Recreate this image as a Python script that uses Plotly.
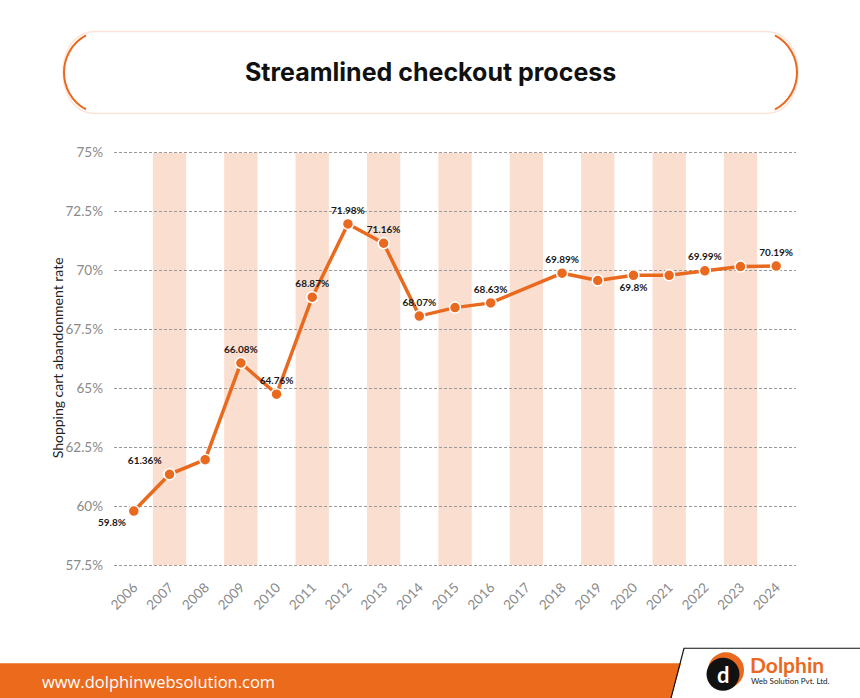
import plotly.graph_objects as go

# ---------------- data ----------------
years = list(range(2006, 2025))
rates = [59.8, 61.36, 61.98, 66.08, 64.76, 68.87, 71.98, 71.16, 68.07, 68.43,
         68.63, None, 69.89, 69.58, 69.8, 69.8, 69.99, 70.17, 70.19]
point_labels = ["59.8%", "61.36%", "", "66.08%", "64.76%", "68.87%", "71.98%", "71.16%",
                "68.07%", "", "68.63%", "", "69.89%", "", "69.8%", "", "69.99%", "", "70.19%"]
label_positions = ["bottom left", "top left", "top center", "top center", "top center",
                   "top center", "top center", "top center", "top center", "top center",
                   "top center", "top center", "top center", "top center", "bottom center",
                   "top center", "top center", "top center", "top center"]
band_years = [2007, 2009, 2011, 2013, 2015, 2017, 2019, 2021, 2023]
y_tick_values = [57.5, 60, 62.5, 65, 67.5, 70, 72.5, 75]
y_tick_labels = ["57.5%", "60%", "62.5%", "65%", "67.5%", "70%", "72.5%", "75%"]
x_tick_labels = [str(y) for y in years]

title_text = "Streamlined checkout process"
y_title = "Shopping cart abandonment rate"
footer_url = "www.dolphinwebsolution.com"

ORANGE = "#E9691F"
BAND = "#FADFD1"

# ---------------- layout geometry (pixels) ----------------
W, H = 860, 698
Y_LO, Y_HI = 57.3, 75.2
PX_PER_UNIT = (565 - 152.3) / 17.5
T = 152.3 - (Y_HI - 75) * PX_PER_UNIT
BOT = 565 + (57.5 - Y_LO) * PX_PER_UNIT
L, R = 114, 64
B = H - BOT
PW, PH = W - L - R, BOT - T


def px(x):
    return (x - L) / PW


def py(y):
    return (BOT - y) / PH


def path(cmds):
    out = []
    for c in cmds:
        if isinstance(c, str):
            out.append(c)
        else:
            out.append(f"{px(c[0]):.5f},{py(c[1]):.5f}")
    return " ".join(out)


fig = go.Figure()

fig.add_trace(go.Scatter(
    x=years, y=rates, mode="lines+markers+text",
    connectgaps=True,
    line=dict(color=ORANGE, width=3.5),
    marker=dict(color=ORANGE, size=11, line=dict(color="white", width=1.5)),
    text=point_labels, textposition=label_positions,
    textfont=dict(family="Lato", size=10, color="#1a1a1a", weight="bold"),
    hoverinfo="skip", showlegend=False, cliponaxis=False,
))

shapes = []
# alternating background bands
for yr in band_years:
    shapes.append(dict(type="rect", xref="x", yref="y", x0=yr - 0.467, x1=yr + 0.467,
                       y0=y_tick_values[0], y1=y_tick_values[-1], fillcolor=BAND,
                       line=dict(width=0), layer="below"))

# title pill
pill = path(["M", (96, 31), "L", (765, 31), "C", (790, 31), (798, 55), (798, 72),
             "C", (798, 89), (790, 113), (765, 113), "L", (96, 113),
             "C", (71, 113), (63, 89), (63, 72), "C", (63, 55), (71, 31), (96, 31), "Z"])
shapes.append(dict(type="path", xref="paper", yref="paper", path=pill,
                   fillcolor="white", line=dict(color="#FBE4D7", width=1.5), layer="above"))
left_arc = path(["M", (86, 35), "C", (71, 43), (64, 58), (64, 72), "C", (64, 86), (71, 101), (86, 109)])
right_arc = path(["M", (775, 35), "C", (790, 43), (797, 58), (797, 72), "C", (797, 86), (790, 101), (775, 109)])
for p in (left_arc, right_arc):
    shapes.append(dict(type="path", xref="paper", yref="paper", path=p,
                       line=dict(color=ORANGE, width=2), layer="above"))

# footer bar
bar = path(["M", (0, 663), "L", (681, 663), "L", (671, 698), "L", (0, 698), "Z"])
shapes.append(dict(type="path", xref="paper", yref="paper", path=bar,
                   fillcolor="#EB6A1B", line=dict(width=0), layer="above"))
edge = path(["M", (860, 648), "L", (684, 648), "L", (671, 698)])
shapes.append(dict(type="path", xref="paper", yref="paper", path=edge,
                   line=dict(color="#111", width=1.2), layer="above"))


def circle(cx, cy, r, color):
    return dict(type="circle", xref="paper", yref="paper",
                x0=px(cx - r), x1=px(cx + r), y0=py(cy + r), y1=py(cy - r),
                fillcolor=color, line=dict(width=0), layer="above")


shapes.append(circle(726, 670, 18, ORANGE))
shapes.append(circle(723, 674, 16.5, "#111"))

annotations = [
    dict(text=f"<b>{title_text}</b>", x=px(430), y=py(72), xref="paper", yref="paper",
         showarrow=False, xanchor="center", yanchor="middle",
         font=dict(family="Inter", size=25, color="#111")),
    dict(text=y_title, x=px(57), y=py(358), xref="paper", yref="paper", textangle=-90,
         showarrow=False, xanchor="center", yanchor="middle",
         font=dict(family="Lato", size=14, color="#222")),
    dict(text=footer_url, x=px(40), y=py(681), xref="paper", yref="paper",
         showarrow=False, xanchor="left", yanchor="middle",
         font=dict(family="Open Sans", size=16.5, color="white")),
    dict(text="<b>d</b>", x=px(723), y=py(674), xref="paper", yref="paper",
         showarrow=False, xanchor="center", yanchor="middle",
         font=dict(family="Lato", size=22, color="white")),
    dict(text="<b>Dolphin</b>", x=px(748), y=py(664), xref="paper", yref="paper",
         showarrow=False, xanchor="left", yanchor="middle",
         font=dict(family="Lato", size=21, color=ORANGE)),
    dict(text="Web Solution Pvt. Ltd.", x=px(749), y=py(681), xref="paper", yref="paper",
         showarrow=False, xanchor="left", yanchor="middle",
         font=dict(family="Lato", size=8, color="#222")),
]

fig.update_layout(
    width=W, height=H,
    margin=dict(l=L, r=R, t=T, b=B, pad=0),
    paper_bgcolor="white", plot_bgcolor="rgba(0,0,0,0)",
    shapes=shapes, annotations=annotations,
    xaxis=dict(range=[2005.445, 2024.555], tickmode="array", tickvals=years,
               ticktext=x_tick_labels, tickangle=-45, showgrid=False, zeroline=False,
               showline=False, ticks="", ticklabelstandoff=6,
               tickfont=dict(family="Lato", size=13.5, color="#8a8a8a"),
               fixedrange=True),
    yaxis=dict(range=[Y_LO, Y_HI], tickmode="array", tickvals=y_tick_values,
               ticktext=y_tick_labels, showgrid=True, gridcolor="#9a9a9a", gridwidth=1,
               griddash="3px,2px", zeroline=False, showline=False, ticks="",
               ticklabelstandoff=10,
               tickfont=dict(family="Lato", size=13.5, color="#8a8a8a"), fixedrange=True),
)

fig.write_html("out.html", config={"displayModeBar": False, "staticPlot": True},
               post_script="document.body.style.margin='0';")
